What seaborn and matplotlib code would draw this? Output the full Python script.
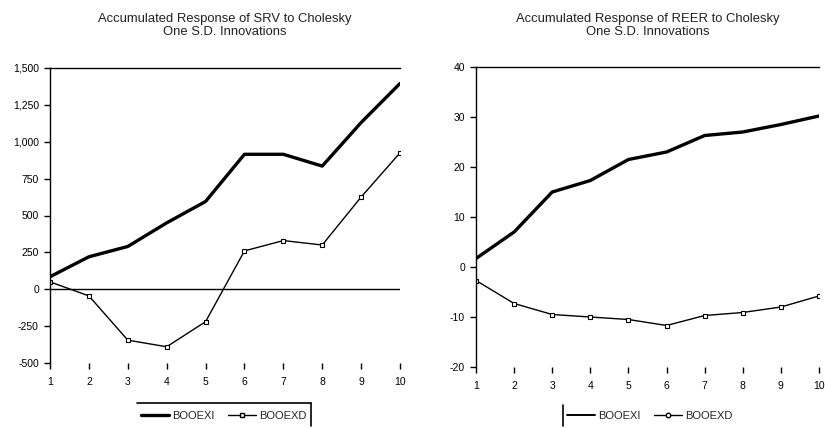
import matplotlib
matplotlib.use("Agg")
import matplotlib.pyplot as plt
import seaborn as sns
import pandas as pd
from matplotlib.lines import Line2D
from matplotlib.ticker import FuncFormatter

periods = [1, 2, 3, 4, 5, 6, 7, 8, 9, 10]
srv_booexi = [85, 220, 290, 450, 595, 915, 915, 835, 1130, 1395]
srv_booexd = [50, -45, -345, -390, -220, 260, 330, 300, 625, 925]
reer_booexi = [1.7, 7.0, 15.0, 17.3, 21.5, 23.0, 26.3, 27.0, 28.5, 30.2]
reer_booexd = [-2.7, -7.3, -9.5, -10.0, -10.5, -11.7, -9.7, -9.1, -8.0, -5.8]
series_names = ["BOOEXI", "BOOEXD"]
titles = ["Accumulated Response of SRV to Cholesky\nOne S.D. Innovations",
          "Accumulated Response of REER to Cholesky\nOne S.D. Innovations"]
left_yticks = [-500, -250, 0, 250, 500, 750, 1000, 1250, 1500]
right_yticks = [-20, -10, 0, 10, 20, 30, 40]

sns.set_theme(style="white")
plt.rcParams["font.family"] = ["Liberation Sans", "DejaVu Sans"]

fig = plt.figure(figsize=(8.25, 4.28), dpi=100)
ax1 = fig.add_axes([50/825, 1-363/428, 350/825, 295/428])
ax2 = fig.add_axes([476/825, 1-367/428, 343/825, 300/428])

THICK = 2.4
THIN = 1.0

def draw(ax, a, b, yticks, fmt):
    df = pd.DataFrame({"period": periods * 2,
                       "value": a + b,
                       "series": [series_names[0]] * len(a) + [series_names[1]] * len(b)})
    sns.lineplot(data=df[df.series == series_names[0]], x="period", y="value", ax=ax,
                 color="black", linewidth=THICK, legend=False)
    sns.lineplot(data=df[df.series == series_names[1]], x="period", y="value", ax=ax,
                 color="black", linewidth=THIN, marker="s", markersize=3.2,
                 markerfacecolor="white", markeredgecolor="black", markeredgewidth=0.8,
                 legend=False)
    ax.set_xlim(1, 10)
    ax.set_ylim(yticks[0], yticks[-1])
    ax.set_xticks(periods)
    ax.set_yticks(yticks)
    ax.yaxis.set_major_formatter(FuncFormatter(fmt))
    ax.set_xlabel("")
    ax.set_ylabel("")
    for s in ["left", "top"]:
        ax.spines[s].set_visible(True)
        ax.spines[s].set_color("black")
        ax.spines[s].set_linewidth(1.0)
    for s in ["right", "bottom"]:
        ax.spines[s].set_visible(False)
    ax.tick_params(axis="y", which="major", direction="out", length=4, width=1,
                   left=True, labelsize=7.5, colors="black", pad=4)
    ax.tick_params(axis="x", which="major", direction="out", length=4, width=1,
                   bottom=True, labelsize=7.5, colors="black", pad=6)
    ax.set_facecolor("white")

draw(ax1, srv_booexi, srv_booexd, left_yticks, lambda v, p: f"{int(v):,}")
ax1.axhline(0, color="black", linewidth=1.0)
draw(ax2, reer_booexi, reer_booexd, right_yticks, lambda v, p: f"{int(v)}")

ax1.set_title(titles[0], fontsize=9.4, pad=24, linespacing=1.1, color="#222222")
ax2.set_title(titles[1], fontsize=9.4, pad=23, linespacing=1.1, color="#222222")

handles = [Line2D([], [], color="black", linewidth=THICK),
           Line2D([], [], color="black", linewidth=THIN, marker="s", markersize=3.2,
                  markerfacecolor="white", markeredgecolor="black")]
leg1 = fig.legend(handles, series_names, loc="center", bbox_to_anchor=(224/825, 1-416/428),
                  ncol=2, frameon=False, fontsize=8, handlelength=2.5, columnspacing=1.2,
                  handletextpad=0.3)
handles2 = [Line2D([], [], color="black", linewidth=1.4),
            Line2D([], [], color="black", linewidth=THIN, marker="o", markersize=3.2,
                   markerfacecolor="white", markeredgecolor="black")]
leg2 = fig.legend(handles2, series_names, loc="center", bbox_to_anchor=(650/825, 1-416/428),
                  ncol=2, frameon=False, fontsize=8, handlelength=2.5, columnspacing=1.2,
                  handletextpad=0.3)

# partial legend frames
fig.add_artist(Line2D([137/825, 311/825], [1-403/428, 1-403/428], color="black", lw=1.2))
fig.add_artist(Line2D([311/825, 311/825], [1-403/428, 1-426/428], color="black", lw=1.2))
fig.add_artist(Line2D([563/825, 563/825], [1-405/428, 1-426/428], color="black", lw=1.2))

fig.savefig("out.png", dpi=100, facecolor="white")
